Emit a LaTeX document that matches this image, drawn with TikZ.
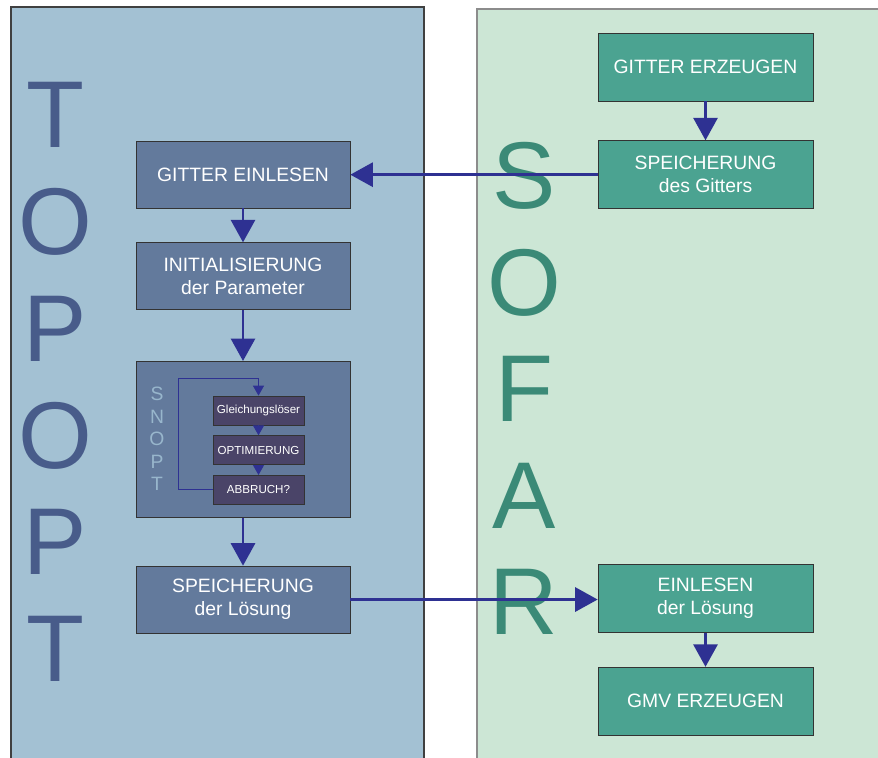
\documentclass[tikz,border=0pt]{standalone}
\usepackage{fontspec}
\setmainfont{Liberation Sans}
\usetikzlibrary{arrows.meta, positioning, calc}
\definecolor{topbg}{HTML}{A3C1D3}
\definecolor{sofbg}{HTML}{CCE6D5}
\definecolor{topbox}{HTML}{637A9C}
\definecolor{sofbox}{HTML}{4BA391}
\definecolor{innerbox}{HTML}{4A4468}
\definecolor{flowblue}{HTML}{2E3192}
\definecolor{topletter}{HTML}{485C8A}
\definecolor{sofletter}{HTML}{3B8A77}
\definecolor{snoptletter}{HTML}{98B6CC}

\begin{document}
\begin{tikzpicture}[x=0.02cm, y=-0.02cm,
    lbox/.style={draw=black!80, fill=topbox, text=white, align=center,
        minimum width=4.28cm, minimum height=1.34cm, font=\fontsize{11}{13}\selectfont},
    rbox/.style={lbox, fill=sofbox, minimum width=4.3cm, minimum height=1.36cm},
    ibox/.style={draw=black!80, fill=innerbox, text=white, inner xsep=1pt,
        minimum width=1.82cm, minimum height=0.58cm, font=\fontsize{6.6}{8}\selectfont},
    big/.style={font=\fontsize{54}{54}\selectfont},
    flow/.style={draw=flowblue, line width=1.7pt, -{Triangle[width=0.48cm,length=0.45cm]}},
    iflow/.style={draw=flowblue, line width=0.6pt, -{Triangle[width=0.22cm,length=0.2cm]}}
]
    \useasboundingbox (0,0) rectangle (878,757);
    \draw[fill=topbg, draw=black!75, line width=0.6pt] (11,7) rectangle (424,770);
    \draw[fill=sofbg, draw=black!45, line width=0.6pt] (477,9) rectangle (890,770);

    \foreach \c [count=\i from 0] in {T,O,P,O,P,T}
        \node[big, text=topletter] (top\i) at (55,{115+106.8*\i}) {\c};
    \foreach \c [count=\i from 0] in {S,O,F,A,R}
        \node[big, text=sofletter] (sof\i) at (524,{176+106.5*\i}) {\c};

    \node[lbox] (ge) at (243,174.5) {GITTER EINLESEN};
    \node[lbox, below=0.68cm of ge] (ip) {INITIALISIERUNG\\der Parameter};
    \node[lbox, below=1.02cm of ip, minimum height=3.12cm] (snopt) {};
    \node[lbox, below=0.96cm of snopt] (sl) {SPEICHERUNG\\der Lösung};

    \node[text=snoptletter, align=center, font=\fontsize{11}{12.8}\selectfont] (sn) at (157,439) {S\\N\\O\\P\\T};
    \node[ibox] (gl) at (258.5,410.5) {Gleichungslöser};
    \node[ibox, below=0.2cm of gl] (op) {OPTIMIERUNG};
    \node[ibox, below=0.2cm of op] (ab) {ABBRUCH?};

    \node[rbox] (gz) at (705.5,67) {GITTER ERZEUGEN};
    \node[rbox, below=0.78cm of gz] (sg) {SPEICHERUNG\\des Gitters};
    \node[rbox] (el) at (705.5,598.5) {EINLESEN\\der Lösung};
    \node[rbox, below=0.68cm of el] (gmv) {GMV ERZEUGEN};

    \draw[flow] (gz) -- (sg);
    \draw[flow] (sg.west) -- (sg.west -| ge.east);
    \draw[flow] (ge) -- (ip);
    \draw[flow] (ip) -- (snopt);
    \draw[flow] (snopt) -- (sl);
    \draw[flow] (sl.east) -- (sl.east -| el.west);
    \draw[flow] (el) -- (gmv);

    \draw[iflow] (gl) -- (op);
    \draw[iflow] (op) -- (ab);
    \draw[iflow] (ab.west) -- ++(-34,0) |- ($(gl.north)+(0,-17)$) -- (gl.north);
\end{tikzpicture}
\end{document}
